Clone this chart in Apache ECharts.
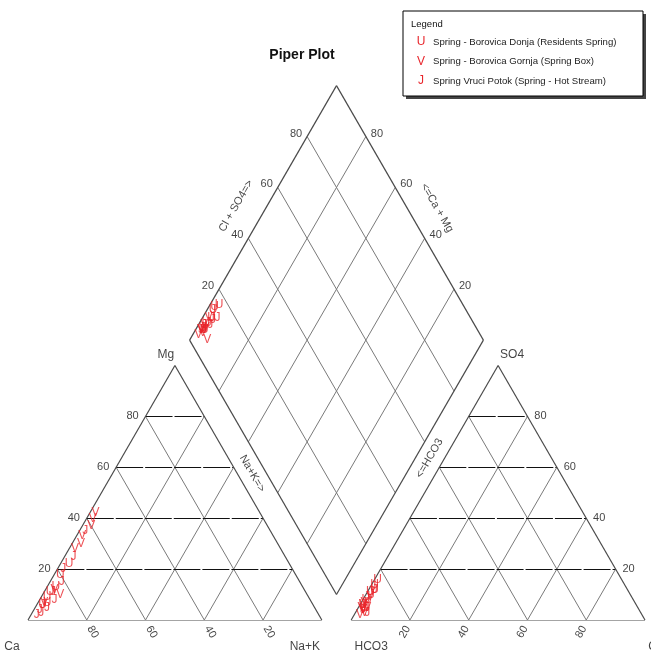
<!DOCTYPE html>
<html><head><meta charset="utf-8">
<script src="https://cdn.jsdelivr.net/npm/echarts@6/dist/echarts.min.js"></script>
<style>html,body{margin:0;padding:0;background:#fff}#c{width:651px;height:654px}</style>
</head><body><div id="c"></div>
<script>
// ---------------- DATA ----------------
const tickValues = [20, 40, 60, 80];
const sampleNames = ['Spring - Borovica Donja (Residents Spring)', 'Spring - Borovica Gornja (Spring Box)', 'Spring Vruci Potok (Spring - Hot Stream)'];
const sampleLetters = ['U', 'V', 'J'];

// cations, % meq/L
const donjaCa  = [75, 84, 89, 92, 80, 87, 90];
const donjaMg  = [22, 13, 9, 6, 18, 11, 7];
const donjaNaK = [3, 3, 2, 2, 2, 2, 3];
// anions, % meq/L
const donjaHCO3 = [83, 88, 91, 93, 85, 86, 93];
const donjaSO4  = [16, 11, 8, 5, 14, 12, 6];
const donjaCl   = [1, 1, 1, 2, 1, 2, 1];

const gornjaCa  = [56, 60, 65, 67, 84, 91, 58, 70, 85];
const gornjaMg  = [42, 37, 33, 30, 10, 7, 40, 28, 12];
const gornjaNaK = [2, 3, 2, 3, 6, 2, 2, 2, 3];
const gornjaHCO3 = [94, 94, 94, 93, 94, 96, 92, 89, 92];
const gornjaSO4  = [4, 5, 3, 6, 4, 2, 7, 9, 5];
const gornjaCl   = [2, 1, 3, 1, 2, 2, 1, 2, 3];

const vruciCa  = [78, 81, 86, 87, 94, 94, 63, 72, 92, 91, 96];
const vruciMg  = [20, 15, 11, 8, 4, 3, 35, 25, 6, 5, 2];
const vruciNaK = [2, 4, 3, 5, 2, 3, 2, 3, 2, 4, 2];
const vruciHCO3 = [86, 88, 90, 86, 92, 93, 93, 88, 92, 90, 94];
const vruciSO4  = [13, 10, 9, 12, 7, 3, 6, 11, 5, 8, 4];
const vruciCl   = [1, 2, 1, 2, 1, 4, 1, 1, 3, 2, 2];

// ---------------- GEOMETRY (data units) ----------------
const H = Math.sqrt(3) / 2;
const GAP = 10;
const RX = 100 + GAP;
const K = 617 / 210; // px per unit
const LV = [50 + GAP / 2, GAP * H + 100 * H]; // diamond left vertex

function leftPt(ca, mg, na) { return [na + mg / 2, mg * H]; }
function rightPt(hco3, so4, cl) { return [RX + cl + so4 / 2, so4 * H]; }
function diaPt(na, an) { const c = na / 100, a = an / 100; return [LV[0] + 50 * a + 50 * c, LV[1] + 100 * H * (a - c)]; }
function at(pt, dx, dy) { return [pt[0] + dx / K, pt[1] - dy / K]; }

// ---------------- LINES ----------------
const outline = [], grayGrid = [], blackGrid = [];
function seg(arr, p, q) { arr.push({ coords: [p, q] }); }
seg(outline, [0, 0], [100, 0]); seg(outline, [100, 0], [50, 100 * H]); seg(outline, [50, 100 * H], [0, 0]);
seg(outline, [RX, 0], [RX + 100, 0]); seg(outline, [RX + 100, 0], [RX + 50, 100 * H]); seg(outline, [RX + 50, 100 * H], [RX, 0]);
seg(outline, diaPt(0, 0), diaPt(0, 100)); seg(outline, diaPt(0, 100), diaPt(100, 100));
seg(outline, diaPt(100, 100), diaPt(100, 0)); seg(outline, diaPt(100, 0), diaPt(0, 0));
tickValues.forEach(v => {
  seg(grayGrid, [v, 0], [v + (100 - v) / 2, (100 - v) * H]);
  seg(grayGrid, [100 - v, 0], [(100 - v) / 2, (100 - v) * H]);
  seg(grayGrid, [RX + v, 0], [RX + v + (100 - v) / 2, (100 - v) * H]);
  seg(grayGrid, [RX + 100 - v, 0], [RX + (100 - v) / 2, (100 - v) * H]);
  seg(grayGrid, diaPt(0, v), diaPt(100, v));
  seg(grayGrid, diaPt(v, 0), diaPt(v, 100));
  seg(blackGrid, [v / 2, v * H], [100 - v / 2, v * H]);
  seg(blackGrid, [RX + v / 2, v * H], [RX + 100 - v / 2, v * H]);
});

// ---------------- TEXT ----------------
const FONT = 'Liberation Sans, Arial, sans-serif';
const texts = [];
function T(pt, text, size, rot) {
  texts.push({ name: text, value: pt, label: { fontSize: size, rotate: rot || 0 } });
}
tickValues.forEach(v => {
  T(at([v / 2, v * H], -13, 0), String(v), 11);                       // Mg
  T(at([100 - v, 0], 6, 12), String(v), 11, -60);                     // Ca
  T(at([RX + v, 0], -5, 12), String(v), 11, 60);                      // Cl
  T(at([RX + 100 - v / 2, v * H], 13, 0), String(v), 11);             // SO4
  T(at(diaPt(0, v), -11, -3), String(v), 11);                         // Cl+SO4
  T(at(diaPt(100 - v, 100), 11, -3), String(v), 11);                  // Ca+Mg
});
T(at([0, 0], -16, 27), 'Ca', 12);
T(at([100, 0], -17, 27), 'Na+K', 12);
T(at([50, 100 * H], -9, -11), 'Mg', 12);
T(at([RX, 0], 20, 27), 'HCO3', 12);
T(at([RX + 100, 0], 9, 27), 'Cl', 12);
T(at([RX + 50, 100 * H], 14, -11), 'SO4', 12);
T(at(diaPt(0, 50), -27, -7), 'Cl + SO4=>', 11, 60);
T(at(diaPt(50, 100), 27, -5), '<=Ca + Mg', 11, -60);
T(at(diaPt(50, 0), -10.8, 6.25), 'Na+K=>', 11, -60);
T(at(diaPt(100, 56), 10.8, 6.25), '<=HCO3', 11, 60);

// ---------------- MARKERS ----------------
function samplePoints(ca, mg, na, hco3, so4, cl) {
  const pts = [];
  for (let i = 0; i < ca.length; i++) {
    pts.push(leftPt(ca[i], mg[i], na[i]));
    pts.push(rightPt(hco3[i], so4[i], cl[i]));
    pts.push(diaPt(na[i], so4[i] + cl[i]));
  }
  return pts;
}
const groups = [
  samplePoints(donjaCa, donjaMg, donjaNaK, donjaHCO3, donjaSO4, donjaCl),
  samplePoints(gornjaCa, gornjaMg, gornjaNaK, gornjaHCO3, gornjaSO4, gornjaCl),
  samplePoints(vruciCa, vruciMg, vruciNaK, vruciHCO3, vruciSO4, vruciCl)
];
const RED = '#e8262c';

const series = [
  { type: 'lines', coordinateSystem: 'cartesian2d', silent: true, data: grayGrid, lineStyle: { color: '#7a7a7a', width: 1, opacity: 1 }, z: 1 },
  { type: 'lines', coordinateSystem: 'cartesian2d', silent: true, data: blackGrid, lineStyle: { color: '#111', width: 1, opacity: 1, type: [27, 2] }, z: 2 },
  { type: 'lines', coordinateSystem: 'cartesian2d', silent: true, data: outline, lineStyle: { color: '#4a4a4a', width: 1.2, opacity: 1 }, z: 3 },
  { type: 'scatter', silent: true, clip: false, symbolSize: 1, itemStyle: { color: 'rgba(0,0,0,0)' }, data: texts, z: 4,
    label: { show: true, position: 'inside', formatter: p => p.name, color: '#111', fontFamily: FONT, align: 'center', verticalAlign: 'middle' } }
];
groups.forEach((pts, gi) => {
  series.push({ type: 'scatter', name: sampleNames[gi], silent: true, clip: false, symbolSize: 1, itemStyle: { color: 'rgba(0,0,0,0)' }, z: 5,
    data: pts, label: { show: true, position: 'inside', formatter: () => sampleLetters[gi], color: RED, fontSize: 12, fontFamily: FONT, align: 'center', verticalAlign: 'middle' } });
});

// ---------------- LEGEND (graphic box) ----------------
const legendEls = [
  { type: 'rect', shape: { x: 406, y: 14, width: 240, height: 85 }, style: { fill: '#444' } },
  { type: 'rect', shape: { x: 403, y: 11, width: 240, height: 85 }, style: { fill: '#fff', stroke: '#000', lineWidth: 1 } },
  { type: 'text', x: 411, y: 24, style: { text: 'Legend', font: '9.5px ' + FONT, fill: '#111', textVerticalAlign: 'middle' } }
];
sampleNames.forEach((n, i) => {
  const y = 42 + i * 19.5;
  legendEls.push({ type: 'text', x: 421, y: y, style: { text: sampleLetters[i], font: '12px ' + FONT, fill: RED, textAlign: 'center', textVerticalAlign: 'middle' } });
  legendEls.push({ type: 'text', x: 433, y: y, style: { text: n, font: '9.6px ' + FONT, fill: '#222', textVerticalAlign: 'middle' } });
});

const chart = echarts.init(document.getElementById('c'), null, { renderer: 'canvas' });
chart.setOption({
  animation: false,
  backgroundColor: '#fff',
  title: { text: 'Piper Plot', left: 297, top: 43, textAlign: 'center', textStyle: { fontSize: 14, fontWeight: 'bold', fontFamily: FONT, color: '#111' } },
  grid: { left: 28, right: 6, bottom: 34, top: 654 - 34 - 200 * K },
  xAxis: { type: 'value', min: 0, max: 210, show: false },
  yAxis: { type: 'value', min: 0, max: 200, show: false },
  graphic: legendEls,
  series: series
});
</script></body></html>
